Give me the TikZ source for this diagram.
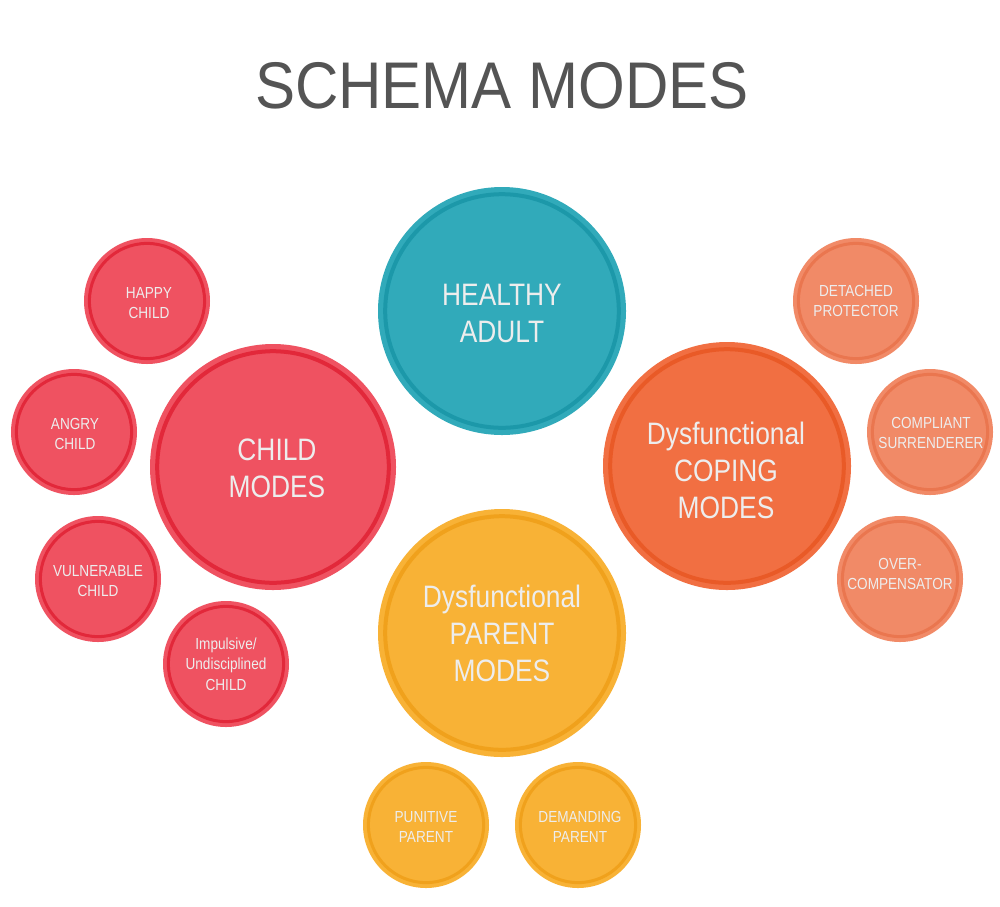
\documentclass[tikz,border=0pt]{standalone}
\usepackage{fontspec}
\setmainfont{Liberation Sans}[FakeStretch=0.85]
\begin{document}
\begin{tikzpicture}[x=1pt,y=-1pt,
  big/.style={text=white!93!black,align=center,font=\fontsize{31}{37}\selectfont},
  small/.style={text=white!93!black,align=center,font=\fontsize{16}{20.5}\selectfont},
]
\definecolor{redF}{HTML}{EF5261}\definecolor{redR}{HTML}{E2283A}
\definecolor{tealF}{HTML}{31AABA}\definecolor{tealR}{HTML}{1C98A9}
\definecolor{oraF}{HTML}{F16F42}\definecolor{oraR}{HTML}{E95A27}
\definecolor{ltoF}{HTML}{F18A67}\definecolor{ltoR}{HTML}{EA764F}
\definecolor{yelF}{HTML}{F8B236}\definecolor{yelR}{HTML}{F0A11C}
\useasboundingbox (0,0) rectangle (1000,906);
\fill[white] (0,0) rectangle (1000,906);
\newcommand\Bub[7]{% name, x,y, r, fill, ring, size
  \fill[#5] (#2,#3) circle (#4);
  \draw[#6,line width=#7] (#2,#3) circle (#4-#7*1.8);
}
\node[text=black!67,font=\fontsize{66}{70}\selectfont,xscale=1.07] (title) at (502,86) {SCHEMA MODES};
\Bub{ha}{502}{311}{124}{tealF}{tealR}{4}
\Bub{cm}{273}{467}{123}{redF}{redR}{4}
\Bub{dc}{727}{466}{124}{oraF}{oraR}{4}
\Bub{pm}{502}{633}{124}{yelF}{yelR}{4}
\foreach \x/\y in {147/301,74/432,98/579,226/664}{\Bub{r}{\x}{\y}{63}{redF}{redR}{3}}
\foreach \x/\y in {856/301,930/432,900/579}{\Bub{o}{\x}{\y}{63}{ltoF}{ltoR}{3}}
\foreach \x/\y in {426/825,578/825}{\Bub{y}{\x}{\y}{63}{yelF}{yelR}{3}}
\node[big] (tha) at (502,313) {HEALTHY\\ADULT};
\node[big] (tcm) at (277,468) {CHILD\\MODES};
\node[big] (tdc) at (726,470) {Dysfunctional\\COPING\\MODES};
\node[big] (tpm) at (502,633) {Dysfunctional\\PARENT\\MODES};
\node[small] (t1) at (149,303) {HAPPY\\CHILD};
\node[small] (t2) at (75,434) {ANGRY\\CHILD};
\node[small] (t3) at (98,581) {VULNERABLE\\CHILD};
\node[small] (t4) at (226,664) {Impulsive/\\Undisciplined\\CHILD};
\node[small] (t5) at (856,301) {DETACHED\\PROTECTOR};
\node[small] (t6) at (931,433) {COMPLIANT\\SURRENDERER};
\node[small] (t7) at (900,574) {OVER-\\COMPENSATOR};
\node[small] (t8) at (426,827) {PUNITIVE\\PARENT};
\node[small] (t9) at (580,827) {DEMANDING\\PARENT};
\end{tikzpicture}
\end{document}
